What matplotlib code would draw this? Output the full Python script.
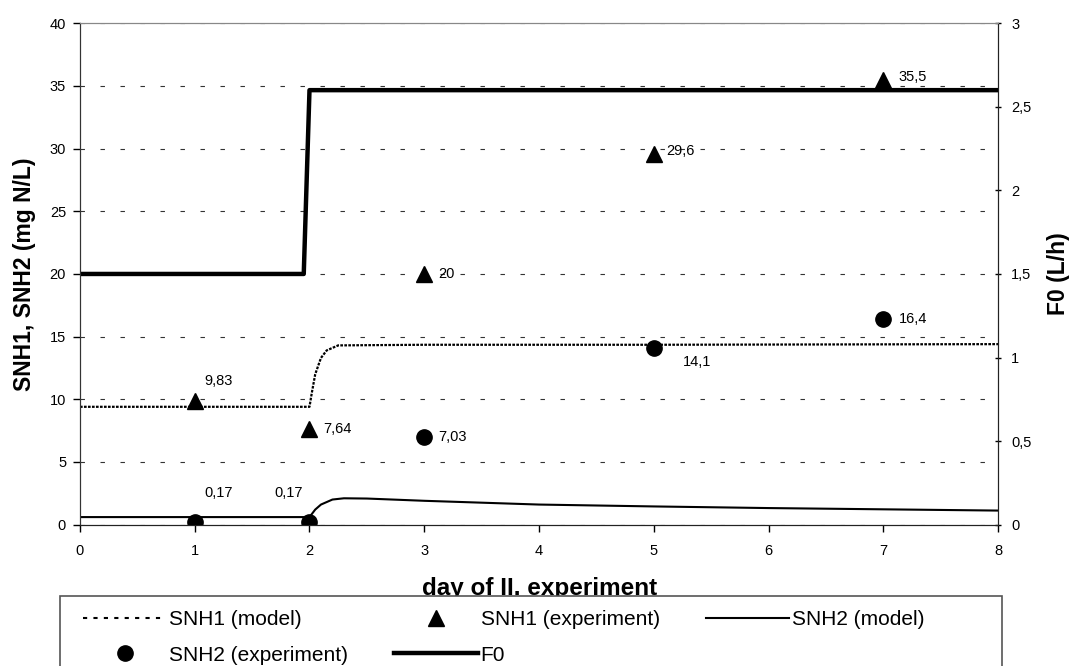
import matplotlib
matplotlib.use("Agg")
import matplotlib.pyplot as plt
from matplotlib.lines import Line2D
from matplotlib.patches import Rectangle

plt.rcParams['font.family'] = ['Liberation Sans', 'DejaVu Sans']

# model curves
SNH1_MODEL_X = [0, 2.0, 2.02, 2.05, 2.1, 2.15, 2.25, 3, 5, 8]
SNH1_MODEL_Y = [9.4, 9.4, 10.5, 12.0, 13.3, 13.9, 14.3, 14.35, 14.35, 14.4]

SNH2_MODEL_X = [0, 2.0, 2.05, 2.1, 2.2, 2.3, 2.5, 3, 4, 5, 6, 7, 8]
SNH2_MODEL_Y = [0.6, 0.6, 1.2, 1.6, 2.0, 2.1, 2.08, 1.9, 1.6, 1.45, 1.32, 1.22, 1.12]

F0_X = [0, 1.95, 2.0, 8]
F0_Y = [1.5, 1.5, 2.6, 2.6]

# experimental points
EXP_DAYS = [1, 2, 3, 5, 7]
SNH1_EXP = [9.83, 7.64, 20, 29.6, 35.5]
SNH2_EXP = [0.17, 0.17, 7.03, 14.1, 16.4]
SNH1_LABELS = ["9,83", "7,64", "20", "29,6", "35,5"]
SNH2_LABELS = ["0,17", "0,17", "7,03", "14,1", "16,4"]

RIGHT_TICKS = [0, 0.5, 1, 1.5, 2, 2.5, 3]
RIGHT_TICKLABELS = ["0", "0,5", "1", "1,5", "2", "2,5", "3"]

W, H = 1072, 666
fig = plt.figure(figsize=(W / 100, H / 100), dpi=100)
ax = fig.add_axes([0.0746, 0.2123, 0.8564, 0.7527])
ax2 = ax.twinx()

ax.set_xlim(0, 8)
ax.set_ylim(0, 40)
ax2.set_ylim(0, 3)

ax.yaxis.grid(True, color="#333333", linewidth=0.8, linestyle=(0, (4, 14)))
ax.set_axisbelow(True)

ax.plot(SNH1_MODEL_X, SNH1_MODEL_Y, color="black", lw=1.6, linestyle=(0, (1.2, 0.6)))
ax.plot(SNH2_MODEL_X, SNH2_MODEL_Y, color="black", lw=1.5)
ax2.plot(F0_X, F0_Y, color="black", lw=3.2, solid_capstyle="butt")

ax.plot(EXP_DAYS, SNH1_EXP, "^", color="black", ms=12, ls="none", zorder=5)
ax.plot(EXP_DAYS, SNH2_EXP, "o", color="black", ms=11, ls="none", zorder=5)

# value labels next to the points (offsets in points)
snh1_off = [(7, 15), (10, 0), (10, 0), (9, 2), (11, 2)]
for x, y, t, off in zip(EXP_DAYS, SNH1_EXP, SNH1_LABELS, snh1_off):
    ax.annotate(t, (x, y), xytext=off, textcoords="offset points",
                fontsize=10.5, va="center", ha="left")
snh2_off = [(7, 21), (-25, 21), (10, 0), (21, -10), (11, 0)]
for x, y, t, off in zip(EXP_DAYS, SNH2_EXP, SNH2_LABELS, snh2_off):
    ax.annotate(t, (x, y), xytext=off, textcoords="offset points",
                fontsize=10.5, va="center", ha="left")

ax.set_xticks(range(0, 9))
ax.set_yticks(range(0, 41, 5))
ax2.set_yticks(RIGHT_TICKS)
ax2.set_yticklabels(RIGHT_TICKLABELS)
ax.tick_params(axis="x", labelsize=10.5, length=5, width=1, direction="out", pad=9)
ax.tick_params(axis="y", labelsize=10.5, length=5, width=1, direction="out", pad=5)
ax2.tick_params(labelsize=10.5, length=5, width=1, direction="inout", pad=7)

for a in (ax, ax2):
    a.spines["top"].set_color("#888888")
    a.spines["left"].set_color("#333333")
    a.spines["right"].set_color("#222222")
    a.spines["bottom"].set_color("#222222")

ax.set_ylabel("SNH1, SNH2 (mg N/L)", fontsize=16.5, fontweight="bold", labelpad=10)
ax2.set_ylabel("F0 (L/h)", fontsize=16.5, fontweight="bold", labelpad=11)
ax.set_xlabel("day of II. experiment", fontsize=17.5, fontweight="bold")
ax.xaxis.label.set_va("baseline")
ax.xaxis.set_label_coords(0.501, -0.141)

# legend box (runs off the bottom edge, like the original)
frame = Rectangle((60 / W, -0.05), 942 / W, 1.05 - 596 / H, transform=fig.transFigure,
                  facecolor="white", edgecolor="#555555", lw=1.2, zorder=4)
fig.add_artist(frame)

handles = [
    Line2D([], [], color="black", lw=1.5, linestyle=(0, (2, 3))),
    Line2D([], [], marker="o", color="black", ms=11, ls="none"),
    Line2D([], [], marker="^", color="black", ms=12, ls="none"),
    Line2D([], [], color="black", lw=3.2),
    Line2D([], [], color="black", lw=1.5),
]
labels = ["SNH1 (model)", "SNH2 (experiment)", "SNH1 (experiment)", "F0", "SNH2 (model)"]
leg = fig.legend(handles, labels, ncol=3, loc="upper left",
                 bbox_to_anchor=(83 / W, 1 - 610 / H), frameon=False, fontsize=15,
                 handlelength=4.0, handletextpad=0.15, borderaxespad=0,
                 borderpad=0, labelspacing=0.8, columnspacing=2.2)
leg.set_zorder(5)

fig.savefig("out.png", dpi=100)
